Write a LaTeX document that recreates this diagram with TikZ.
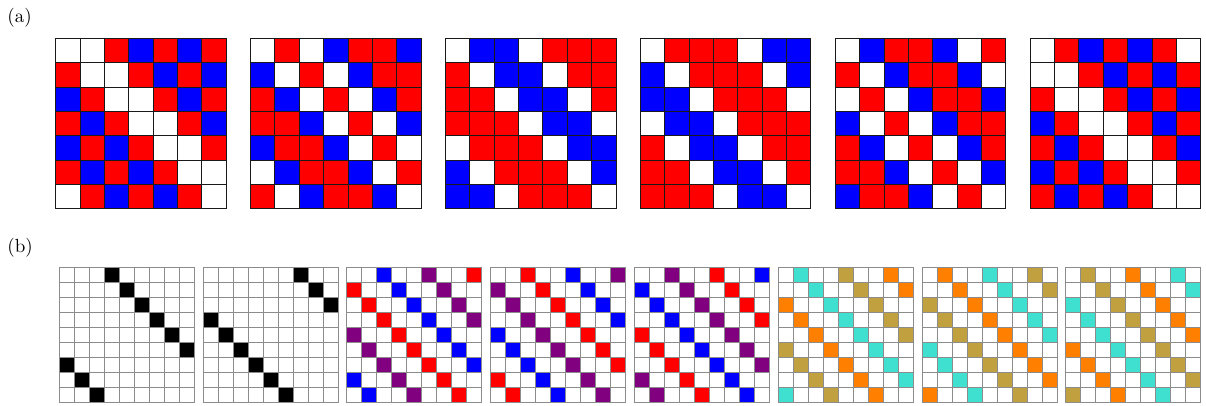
\documentclass[tikz,border=0pt]{standalone}
\definecolor{cW}{RGB}{255,255,255}
\definecolor{cR}{RGB}{255,0,0}
\definecolor{cB}{RGB}{0,0,255}
\definecolor{cP}{RGB}{128,0,128}
\definecolor{cT}{RGB}{64,224,208}
\definecolor{cG}{RGB}{193,160,64}
\definecolor{cO}{RGB}{255,127,0}
\definecolor{cK}{RGB}{0,0,0}
\tikzset{
  tline/.style={draw=black!90,line width=0.5pt,line cap=rect},
  bline/.style={draw=black!45,line width=0.45pt,line cap=rect},
  lab/.style={anchor=west,inner sep=0pt,font=\fontsize{9.5}{11}\selectfont}
}
\begin{document}
\begin{tikzpicture}[x=0.5pt,y=-0.5pt]
\useasboundingbox (0,0) rectangle (1206,406);
\node[lab] (la) at (7,17.5) {(a)};
\node[lab] (lb) at (7,248) {(b)};
% top row: 7x7 circulant grids
\foreach \g/\pat in {0/{W,W,R,B,R,B,R},1/{W,R,W,B,R,R,B},2/{W,B,B,W,R,R,R},3/{W,R,R,R,W,B,B},4/{W,B,R,R,B,W,R},5/{W,R,B,R,B,R,W}}{
  \pgfmathsetmacro\xo{55.7+\g*194.9}
  \foreach \k [count=\kk from 0] in \pat {
    \foreach \r in {0,...,6}{
      \pgfmathtruncatemacro\cc{mod(\r+\kk,7)}
      \fill[c\k] ({\xo+\cc*24.36},{38.3+\r*24.36}) rectangle ++(24.36,24.36);
    }
  }
  \foreach \i in {0,...,7}{
    \draw[tline] ({\xo+\i*24.36},38.3) -- ++(0,170.52);
    \draw[tline] (\xo,{38.3+\i*24.36}) -- ++(170.52,0);
  }
}
% bottom row: 9x9 circulant grids
\foreach \g/\pat in {0/{W,W,W,K,W,W,W,W,W},1/{W,W,W,W,W,W,K,W,W},2/{W,W,B,W,W,P,W,W,R},3/{W,W,R,W,W,B,W,W,P},4/{W,W,P,W,W,R,W,W,B},5/{W,T,W,W,G,W,W,O,W},6/{W,O,W,W,T,W,W,G,W},7/{W,G,W,W,O,W,W,T,W}}{
  \pgfmathsetmacro\xo{59.3+\g*143.8}
  \foreach \k [count=\kk from 0] in \pat {
    \foreach \r in {0,...,8}{
      \pgfmathtruncatemacro\cc{mod(\r+\kk,9)}
      \fill[c\k] ({\xo+\cc*15},{267.7+\r*15}) rectangle ++(15,15);
    }
  }
  \foreach \i in {0,...,9}{
    \draw[bline] ({\xo+\i*15},267.7) -- ++(0,135);
    \draw[bline] (\xo,{267.7+\i*15}) -- ++(135,0);
  }
}
\end{tikzpicture}
\end{document}
